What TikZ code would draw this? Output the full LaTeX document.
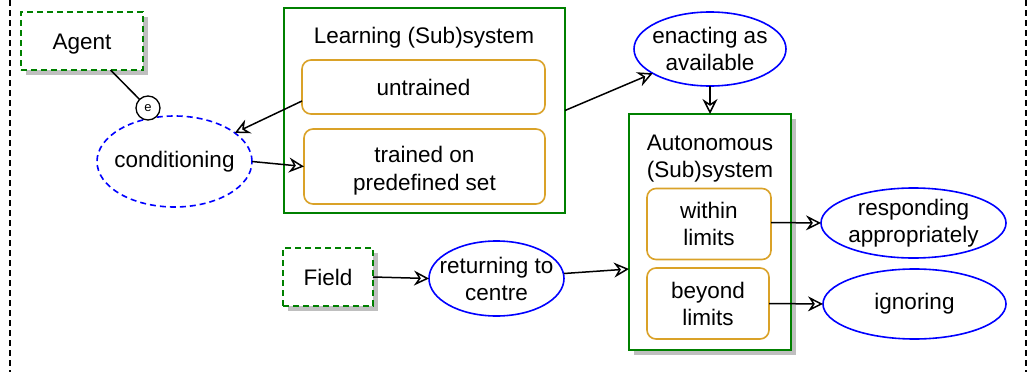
\documentclass[tikz,border=0pt]{standalone}
\usepackage{fontspec}
\setmainfont{Liberation Sans}
\usetikzlibrary{arrows.meta,shadows,shapes.geometric}
\definecolor{grn}{RGB}{0,128,0}
\definecolor{blu}{RGB}{0,0,255}
\definecolor{org}{RGB}{218,162,40}
\begin{document}
\begin{tikzpicture}[x=1pt,y=-1pt,
  font=\fontsize{22.5}{27}\selectfont,
  every node/.style={inner sep=0pt,outer sep=0pt},
  shad/.style={drop shadow={shadow xshift=5pt,shadow yshift=-5pt,fill=black!25,opacity=1}},
  actor/.style={draw=grn,line width=1.6pt,dash pattern=on 6pt off 4pt,fill=white,shad,align=center},
  sysbox/.style={draw=grn,line width=1.6pt,fill=white},
  sub/.style={draw=org,line width=1.6pt,rounded corners=9pt,align=center,fill=white},
  act/.style={ellipse,draw=blu,line width=1.6pt,fill=white,label={[align=center]center:#1}},
  con/.style={line width=1.5pt,black},
  arr/.style={con,-{Stealth[open,length=15pt,width=15pt,inset=5pt,line width=1.5pt]}},
  frame/.style={line width=1.5pt,dash pattern=on 6pt off 4pt}
]
\useasboundingbox (0,0) rectangle (1034,372);
% outer frame (only side edges visible)
\draw[frame] (10,0) -- (10,372);
\draw[frame] (1026,0) -- (1026,372);

% systems
\node[sysbox,minimum width=281pt,minimum height=205pt] (learn) at (424.5,110.5) {};
\node (learnT) at (424,38) {Learning (Sub)system};
\node[sub,minimum width=243pt,minimum height=54pt] (untr) at (423.5,87) {untrained};
\node[sub,minimum width=241pt,minimum height=75pt,label={[align=center,yshift=-4pt]center:trained on\\[1pt]predefined set}] (trained) at (424.5,166.5) {};

\node[sysbox,shad,minimum width=162pt,minimum height=236pt] (auto) at (710,232) {};
\node[align=center] (autoT) at (710,159) {Autonomous\\(Sub)system};
\node[sub,minimum width=124pt,minimum height=71pt] (within) at (709,224) {within\\limits};
\node[sub,minimum width=122pt,minimum height=71pt] (beyond) at (708,303.5) {beyond\\limits};

% actors
\node[actor,minimum width=122pt,minimum height=58pt] (agent) at (82,41) {\raisebox{-3pt}[\height][\depth]{Agent}};
\node[actor,minimum width=90pt,minimum height=58pt] (field) at (328,277) {Field};

% activities
\node[act={conditioning},dash pattern=on 6pt off 4pt,minimum width=155pt,minimum height=91pt] (cond) at (174.5,161.5) {};
\node[act={enacting as\\available},minimum width=152pt,minimum height=74pt] (enact) at (710,49) {};
\node[act={returning to\\centre},minimum width=135pt,minimum height=75pt] (ret) at (496.5,278.5) {};
\node[act={responding\\appropriately},minimum width=185pt,minimum height=70pt] (resp) at (913.5,223) {};
\node[act={ignoring},minimum width=183pt,minimum height=70pt] (ign) at (914.5,304) {};

% connectors
\node[circle,draw,line width=1.3pt,fill=white,minimum size=24pt,font=\fontsize{13}{15}\selectfont] (e) at (148,108) {e};
\draw[con] (agent) -- (e);
\draw[arr] ([yshift=-14pt]untr.west) -- (cond);
\draw[arr] (cond.east) -- (trained.west);
\draw[arr] (learn.east) -- (enact);
\draw[arr] (enact.south) -- (auto.north);
\draw[arr] (field.east) -- (ret.west);
\draw[arr] ([yshift=5pt]ret.east) -- ([yshift=-37pt]auto.west);
\draw[arr] ([yshift=1.5pt]within.east) -- (resp.west);
\draw[arr] (beyond.east) -- (ign.west);
\end{tikzpicture}
\end{document}
